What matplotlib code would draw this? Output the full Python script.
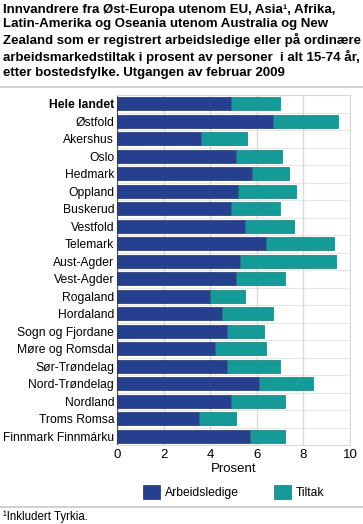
import numpy as np
import matplotlib.pyplot as plt

plt.rcParams['font.family'] = ['Liberation Sans', 'DejaVu Sans']

fylker = ["Hele landet", "Østfold", "Akershus", "Oslo", "Hedmark", "Oppland",
          "Buskerud", "Vestfold", "Telemark", "Aust-Agder", "Vest-Agder",
          "Rogaland", "Hordaland", "Sogn og Fjordane", "Møre og Romsdal",
          "Sør-Trøndelag", "Nord-Trøndelag", "Nordland", "Troms Romsa",
          "Finnmark Finnmárku"]
arbeidsledige = [4.9, 6.7, 3.6, 5.1, 5.8, 5.2, 4.9, 5.5, 6.4, 5.3, 5.1,
                 4.0, 4.5, 4.7, 4.2, 4.7, 6.1, 4.9, 3.5, 5.7]
tiltak = [2.1, 2.8, 2.0, 2.0, 1.6, 2.5, 2.1, 2.1, 2.9, 4.1, 2.1,
          1.5, 2.2, 1.6, 2.2, 2.3, 2.3, 2.3, 1.6, 1.5]

blue = "#25408F"
teal = "#149A97"

fig = plt.figure(figsize=(3.63, 5.24), dpi=100)
ax = fig.add_axes([117 / 363, 1 - 445 / 524, 233 / 363, 350 / 524])

y = np.arange(len(fylker))
ax.barh(y, arbeidsledige, height=0.72, color=blue, edgecolor="#1c2f6b",
        linewidth=0.5, label="Arbeidsledige", zorder=3)
ax.barh(y, tiltak, left=arbeidsledige, height=0.72, color=teal,
        edgecolor="#117a77", linewidth=0.5, label="Tiltak", zorder=3)

ax.set_ylim(len(fylker) - 0.5, -0.5)
ax.set_xlim(0, 10)
ax.set_xticks([0, 2, 4, 6, 8, 10])
ax.set_yticks(y)
ax.set_yticklabels(fylker, fontsize=8.7)
ax.get_yticklabels()[0].set_fontweight("bold")
ax.tick_params(axis="x", labelsize=9.5, length=0, pad=3)
ax.tick_params(axis="y", length=0, pad=2)
ax.set_xlabel("Prosent", fontsize=9.5, labelpad=1)

ax.grid(axis="x", color="#d9d9d9", linewidth=1, zorder=0)
for y0 in np.arange(-0.5, len(fylker), 1):
    ax.axhline(y0, color="#e6e6e6", linewidth=0.8, zorder=0)
for s in ax.spines.values():
    s.set_color("#d9d9d9")
ax.spines["left"].set_color("#555555")

ax.legend(loc="center", bbox_to_anchor=(0.5, -0.134), ncol=2,
          frameon=False, fontsize=8.7, handlelength=1.4, handleheight=1.4,
          columnspacing=2.9, handletextpad=0.4, borderaxespad=0)

title = ("Innvandrere fra Øst-Europa utenom EU, Asia¹, Afrika,\n"
         "Latin-Amerika og Oseania utenom Australia og New\n"
         "Zealand som er registrert arbeidsledige eller på ordinære\n"
         "arbeidsmarkedstiltak i prosent av personer  i alt 15-74 år,\n"
         "etter bostedsfylke. Utgangen av februar 2009")
fig.text(3 / 363, 1 - 4 / 524, title, fontsize=9.5, fontweight="bold",
         va="top", ha="left", linespacing=1.27)

fig.add_artist(plt.Line2D([0, 1], [1 - 87 / 524, 1 - 87 / 524],
                          color="#c8c8c8", linewidth=1.2,
                          transform=fig.transFigure))
fig.add_artist(plt.Line2D([0, 1], [1 - 507 / 524, 1 - 507 / 524],
                          color="#c8c8c8", linewidth=1.2,
                          transform=fig.transFigure))
fig.text(3 / 363, 1 - 517 / 524, "¹Inkludert Tyrkia.", fontsize=8.3,
         va="center", ha="left")

fig.savefig("out.png", dpi=100)
